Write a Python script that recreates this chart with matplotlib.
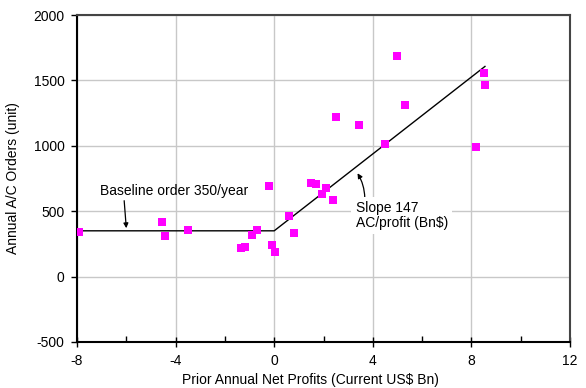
import matplotlib
matplotlib.use("Agg")
import matplotlib.pyplot as plt
import numpy as np

plt.rcParams['font.family'] = ['Liberation Sans', 'DejaVu Sans']
plt.rcParams['axes.unicode_minus'] = False

# prior annual net profit (Bn$) vs annual A/C orders
profits = [-7.9, -4.55, -4.45, -3.5, -1.35, -1.2, -0.9, -0.7, -0.2, -0.08, 0.05,
           0.6, 0.8, 1.5, 1.7, 1.95, 2.1, 2.4, 2.5, 3.45, 4.5, 5.0, 5.3,
           8.2, 8.5, 8.55]
orders = [340, 420, 310, 360, 215, 225, 320, 360, 690, 240, 190,
          460, 335, 715, 705, 635, 675, 585, 1220, 1160, 1010, 1690, 1310,
          990, 1555, 1465]

# piecewise fit: baseline 350/year, slope 147 above zero profit
fit_x = [-8, 0, 8.55]
baseline = 350
slope = 147
fit_y = [baseline, baseline, baseline + slope * 8.55]

fig = plt.figure(figsize=(5.86, 3.88), dpi=100)
ax = fig.add_axes([0.1314, 0.1186, 0.8413, 0.8427])

ax.grid(True, color='#c8c8c8', linewidth=1.0, zorder=0)
ax.plot(fit_x, fit_y, color='black', linewidth=1.0, zorder=2)
ax.scatter(profits, orders, marker='s', s=38, color='#ff00ff', linewidths=0, zorder=3)

ax.set_xlim(-8, 12)
ax.set_ylim(-500, 2000)
ax.set_xticks(np.arange(-8, 13, 4))
ax.set_xticks(np.arange(-6, 12, 4), minor=True)
ax.set_yticks(np.arange(-500, 2001, 500))
ax.tick_params(axis='x', which='major', direction='inout', length=7, width=1, labelsize=10, pad=5)
ax.tick_params(axis='x', which='minor', direction='in', length=4, width=1)
ax.tick_params(axis='y', which='major', direction='out', length=4, width=1, labelsize=10, pad=5)

for side in ['left', 'bottom']:
    ax.spines[side].set_color('black')
    ax.spines[side].set_linewidth(1.5)
for side in ['top', 'right']:
    ax.spines[side].set_color('#444444')
    ax.spines[side].set_linewidth(1.5)

ax.set_xlabel('Prior Annual Net Profits (Current US$ Bn)', fontsize=10)
ax.xaxis.set_label_coords(0.473, -0.095)
ax.set_ylabel('Annual A/C Orders (unit)', fontsize=10)
ax.yaxis.set_label_coords(-0.115, 0.5)

ax.annotate('Baseline order 350/year', xy=(-6, 370), xytext=(-4.05, 655),
            ha='center', va='center', fontsize=10,
            arrowprops=dict(arrowstyle='-|>', color='black', lw=0.9,
                            mutation_scale=7, shrinkA=0, shrinkB=0,
                            relpos=(0.16, 0.0)),
            zorder=4)

ax.annotate('Slope 147\nAC/profit (Bn$)', xy=(3.38, 790), xytext=(3.3, 465),
            ha='left', va='center', fontsize=10, linespacing=1.05,
            bbox=dict(boxstyle='square,pad=0.3', fc='white', ec='none'),
            arrowprops=dict(arrowstyle='-|>', color='black', lw=0.9,
                            mutation_scale=7, shrinkA=0, shrinkB=0,
                            relpos=(0.1, 1.0), connectionstyle='arc3,rad=0.15'),
            zorder=4)

fig.savefig('out.png', dpi=100)
